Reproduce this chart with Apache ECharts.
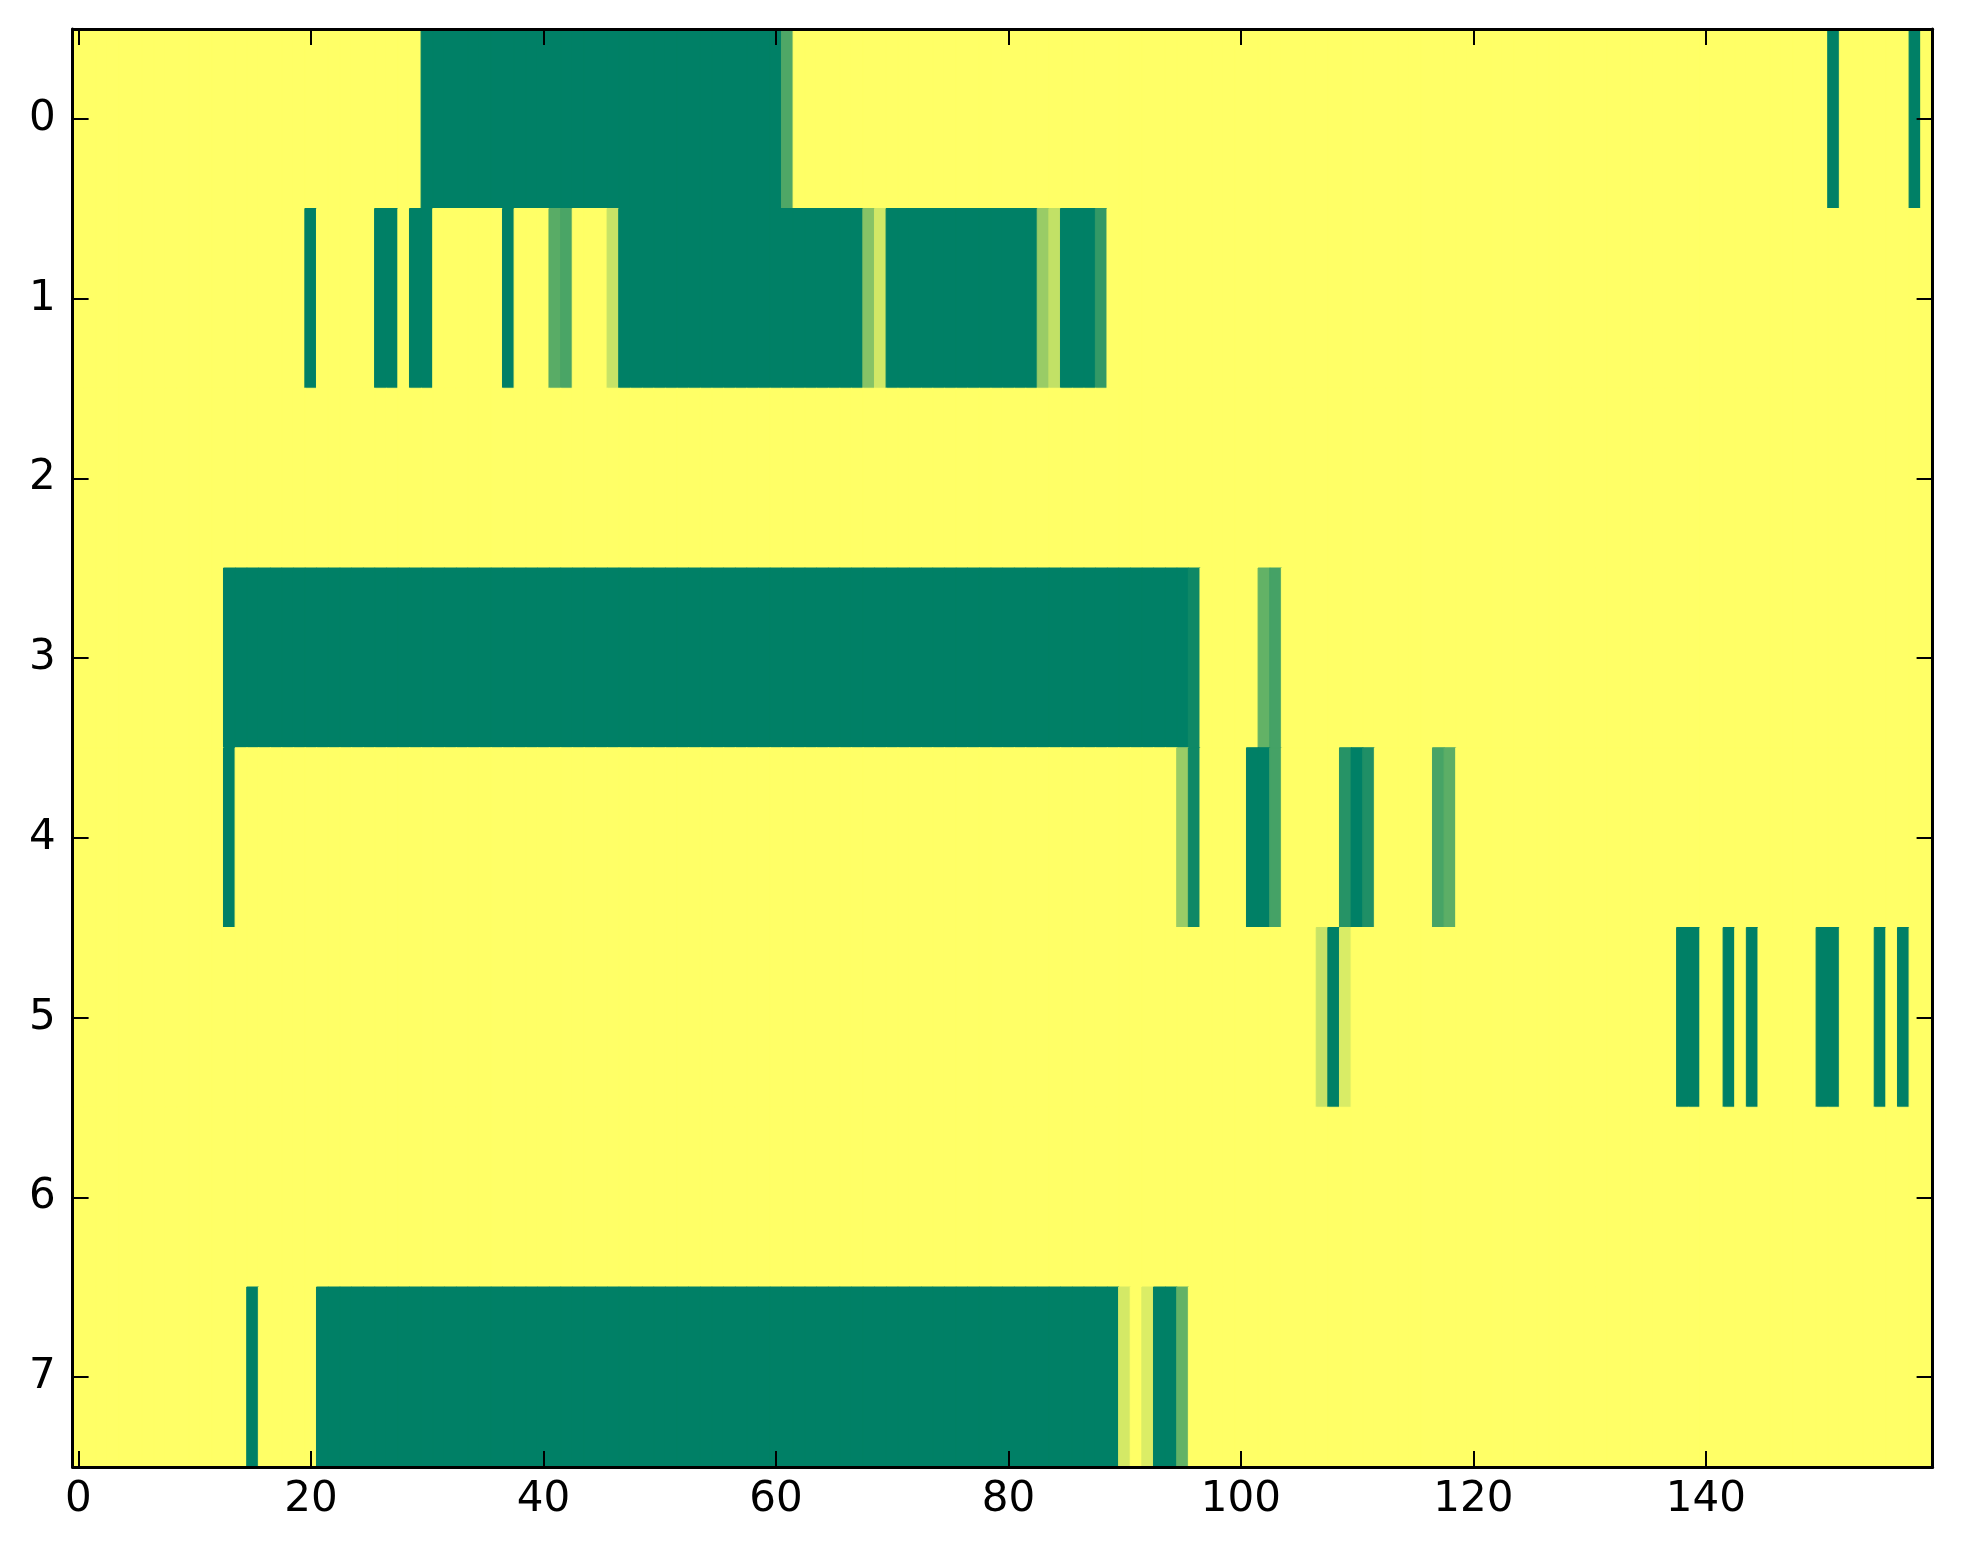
<!DOCTYPE html>
<html>
<head>
<meta charset="utf-8">
<script src="https://cdn.jsdelivr.net/npm/echarts@6/dist/echarts.min.js"></script>
<style>
html,body{margin:0;padding:0;background:#fff;}
#chart{width:1963px;height:1564px;}
</style>
</head>
<body>
<div id="chart"></div>
<script>
// Column indices 0..159, row labels 0..7
const nCols = 160;
const rowLabels = ['0','1','2','3','4','5','6','7'];
const xTickLabels = ['0','20','40','60','80','100','120','140'];
const colorRange = ['#008066','#ffff66'];

const row0 = [
1,1,1,1,1,1,1,1,1,1, 1,1,1,1,1,1,1,1,1,1, 1,1,1,1,1,1,1,1,1,1, 0,0,0,0,0,0,0,0,0,0,
0,0,0,0,0,0,0,0,0,0, 0,0,0,0,0,0,0,0,0,0, 0,0.31,1,1,1,1,1,1,1,1, 1,1,1,1,1,1,1,1,1,1,
1,1,1,1,1,1,1,1,1,1, 1,1,1,1,1,1,1,1,1,1, 1,1,1,1,1,1,1,1,1,1, 1,1,1,1,1,1,1,1,1,1,
1,1,1,1,1,1,1,1,1,1, 1,1,1,1,1,1,1,1,1,1, 1,1,1,1,1,1,1,1,1,1, 1,0,1,1,1,1,1,1,0,1
];
const row1 = [
1,1,1,1,1,1,1,1,1,1, 1,1,1,1,1,1,1,1,1,1, 0,1,1,1,1,1,0,0,1,0, 0,1,1,1,1,1,1,0,1,1,
1,0.35,0.29,1,1,1,0.78,0,0,0, 0,0,0,0,0,0,0,0,0,0, 0,0,0,0,0,0,0,0,0.525,0.82, 0,0,0,0,0,0,0,0,0,0,
0,0,0,0.6,0.76,0,0,0,0.2,1, 1,1,1,1,1,1,1,1,1,1, 1,1,1,1,1,1,1,1,1,1, 1,1,1,1,1,1,1,1,1,1,
1,1,1,1,1,1,1,1,1,1, 1,1,1,1,1,1,1,1,1,1, 1,1,1,1,1,1,1,1,1,1, 1,1,1,1,1,1,1,1,1,1
];
const row2 = [
1,1,1,1,1,1,1,1,1,1, 1,1,1,1,1,1,1,1,1,1, 1,1,1,1,1,1,1,1,1,1, 1,1,1,1,1,1,1,1,1,1,
1,1,1,1,1,1,1,1,1,1, 1,1,1,1,1,1,1,1,1,1, 1,1,1,1,1,1,1,1,1,1, 1,1,1,1,1,1,1,1,1,1,
1,1,1,1,1,1,1,1,1,1, 1,1,1,1,1,1,1,1,1,1, 1,1,1,1,1,1,1,1,1,1, 1,1,1,1,1,1,1,1,1,1,
1,1,1,1,1,1,1,1,1,1, 1,1,1,1,1,1,1,1,1,1, 1,1,1,1,1,1,1,1,1,1, 1,1,1,1,1,1,1,1,1,1
];
const row3 = [
1,1,1,1,1,1,1,1,1,1, 1,1,1,0,0,0,0,0,0,0, 0,0,0,0,0,0,0,0,0,0, 0,0,0,0,0,0,0,0,0,0,
0,0,0,0,0,0,0,0,0,0, 0,0,0,0,0,0,0,0,0,0, 0,0,0,0,0,0,0,0,0,0, 0,0,0,0,0,0,0,0,0,0,
0,0,0,0,0,0,0,0,0,0, 0,0,0,0,0,0,0.06,1,1,1, 1,1,0.39,0.27,1,1,1,1,1,1, 1,1,1,1,1,1,1,1,1,1,
1,1,1,1,1,1,1,1,1,1, 1,1,1,1,1,1,1,1,1,1, 1,1,1,1,1,1,1,1,1,1, 1,1,1,1,1,1,1,1,1,1
];
const row4 = [
1,1,1,1,1,1,1,1,1,1, 1,1,1,0,1,1,1,1,1,1, 1,1,1,1,1,1,1,1,1,1, 1,1,1,1,1,1,1,1,1,1,
1,1,1,1,1,1,1,1,1,1, 1,1,1,1,1,1,1,1,1,1, 1,1,1,1,1,1,1,1,1,1, 1,1,1,1,1,1,1,1,1,1,
1,1,1,1,1,1,1,1,1,1, 1,1,1,1,1,0.6,0.06,1,1,1, 1,0,0,0.27,1,1,1,1,1,0.15, 0,0.12,1,1,1,1,1,0.28,0.36,1,
1,1,1,1,1,1,1,1,1,1, 1,1,1,1,1,1,1,1,1,1, 1,1,1,1,1,1,1,1,1,1, 1,1,1,1,1,1,1,1,1,1
];
const row5 = [
1,1,1,1,1,1,1,1,1,1, 1,1,1,1,1,1,1,1,1,1, 1,1,1,1,1,1,1,1,1,1, 1,1,1,1,1,1,1,1,1,1,
1,1,1,1,1,1,1,1,1,1, 1,1,1,1,1,1,1,1,1,1, 1,1,1,1,1,1,1,1,1,1, 1,1,1,1,1,1,1,1,1,1,
1,1,1,1,1,1,1,1,1,1, 1,1,1,1,1,1,1,1,1,1, 1,1,1,1,1,1,1,0.78,0,0.85, 1,1,1,1,1,1,1,1,1,1,
1,1,1,1,1,1,1,1,1,1, 1,1,1,1,1,1,1,1,0,0, 1,1,0,1,0,1,1,1,1,1, 0,0,1,1,1,0,1,0,1,1
];
const row6 = [
1,1,1,1,1,1,1,1,1,1, 1,1,1,1,1,1,1,1,1,1, 1,1,1,1,1,1,1,1,1,1, 1,1,1,1,1,1,1,1,1,1,
1,1,1,1,1,1,1,1,1,1, 1,1,1,1,1,1,1,1,1,1, 1,1,1,1,1,1,1,1,1,1, 1,1,1,1,1,1,1,1,1,1,
1,1,1,1,1,1,1,1,1,1, 1,1,1,1,1,1,1,1,1,1, 1,1,1,1,1,1,1,1,1,1, 1,1,1,1,1,1,1,1,1,1,
1,1,1,1,1,1,1,1,1,1, 1,1,1,1,1,1,1,1,1,1, 1,1,1,1,1,1,1,1,1,1, 1,1,1,1,1,1,1,1,1,1
];
const row7 = [
1,1,1,1,1,1,1,1,1,1, 1,1,1,1,1,0,1,1,1,1, 1,0,0,0,0,0,0,0,0,0, 0,0,0,0,0,0,0,0,0,0,
0,0,0,0,0,0,0,0,0,0, 0,0,0,0,0,0,0,0,0,0, 0,0,0,0,0,0,0,0,0,0, 0,0,0,0,0,0,0,0,0,0,
0,0,0,0,0,0,0,0,0,0, 0.83,1,0.86,0,0,0.39,1,1,1,1, 1,1,1,1,1,1,1,1,1,1, 1,1,1,1,1,1,1,1,1,1,
1,1,1,1,1,1,1,1,1,1, 1,1,1,1,1,1,1,1,1,1, 1,1,1,1,1,1,1,1,1,1, 1,1,1,1,1,1,1,1,1,1
];

const rows = [row0,row1,row2,row3,row4,row5,row6,row7];
const xCats = [];
for (let i = 0; i < nCols; i++) xCats.push(String(i));
const data = [];
rows.forEach((r, y) => r.forEach((v, x) => {
  const c = echarts.color.lerp(v, colorRange);
  data.push({value:[x, y, v], itemStyle:{color:c, borderColor:c, borderWidth:1}});
}));

const tickEvery20 = (idx) => xTickLabels.indexOf(String(idx)) >= 0;
const FONT = 'DejaVu Sans';
const lineStyle = {color:'#000', width:3};

const chart = echarts.init(document.getElementById('chart'), null, {renderer:'canvas'});
chart.setOption({
  animation:false,
  backgroundColor:'#ffffff',
  grid:{left:72.6, right:30.4, top:29, bottom:97, containLabel:false},
  xAxis:[
    {type:'category', data:xCats, position:'bottom', z:10,
     axisLine:{show:true, onZero:false, lineStyle},
     axisTick:{show:true, inside:true, length:16, alignWithLabel:true, interval:tickEvery20, lineStyle:{color:'#000', width:2}},
     axisLabel:{show:true, interval:tickEvery20, color:'#000', fontFamily:FONT, fontSize:42, margin:12},
     splitLine:{show:false}},
    {type:'category', data:xCats, position:'top', z:10,
     axisLine:{show:true, onZero:false, lineStyle},
     axisTick:{show:true, inside:true, length:16, alignWithLabel:true, interval:tickEvery20, lineStyle:{color:'#000', width:2}},
     axisLabel:{show:false}, splitLine:{show:false}}
  ],
  yAxis:[
    {type:'category', data:rowLabels, inverse:true, position:'left', z:10,
     axisLine:{show:true, onZero:false, lineStyle},
     axisTick:{show:true, inside:true, length:16, alignWithLabel:true, lineStyle:{color:'#000', width:2}},
     axisLabel:{show:true, color:'#000', fontFamily:FONT, fontSize:42, margin:17},
     splitLine:{show:false}},
    {type:'category', data:rowLabels, inverse:true, position:'right', z:10,
     axisLine:{show:true, onZero:false, lineStyle},
     axisTick:{show:true, inside:true, length:16, alignWithLabel:true, lineStyle:{color:'#000', width:2}},
     axisLabel:{show:false}, splitLine:{show:false}}
  ],
  series:[{
    type:'heatmap', xAxisIndex:0, yAxisIndex:0, data:data,
    emphasis:{disabled:true}
  }]
});
</script>
</body>
</html>
